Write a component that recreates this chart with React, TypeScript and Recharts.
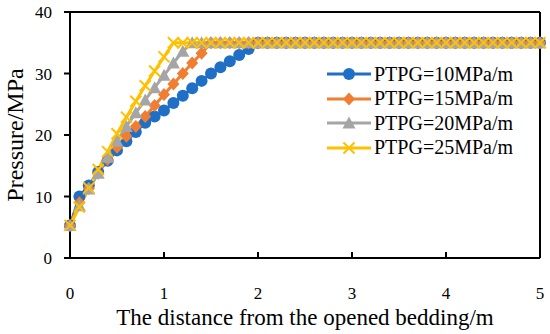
import React from 'react';
import { LineChart, Line, XAxis, YAxis, Legend, ReferenceLine } from 'recharts';

// distance from the opened bedding (m)
const DIST = [
  0, 0.1, 0.2, 0.3, 0.4, 0.5, 0.6, 0.7, 0.8, 0.9,
  1.0, 1.1, 1.2, 1.3, 1.4, 1.5, 1.6, 1.7, 1.8, 1.9,
  2.0, 2.1, 2.2, 2.3, 2.4, 2.5, 2.6, 2.7, 2.8, 2.9,
  3.0, 3.1, 3.2, 3.3, 3.4, 3.5, 3.6, 3.7, 3.8, 3.9,
  4.0, 4.1, 4.2, 4.3, 4.4, 4.5, 4.6, 4.7, 4.8, 4.9,
  5.0,
];

// pressure (MPa) for each pressure transmission gradient
const P10 = [
  5.3, 10.0, 11.8, 14.0, 15.8, 17.5, 19.0, 20.5, 22.0, 23.0,
  24.0, 25.2, 26.4, 27.6, 28.8, 30.0, 31.0, 32.0, 33.0, 34.0,
  35, 35, 35, 35, 35, 35, 35, 35, 35, 35,
  35, 35, 35, 35, 35, 35, 35, 35, 35, 35,
  35, 35, 35, 35, 35, 35, 35, 35, 35, 35,
  35,
];
const P15 = [
  5.3, 9.0, 11.3, 13.8, 16.0, 18.0, 19.8, 21.4, 23.0, 24.8,
  26.6, 28.3, 30.0, 31.7, 33.3, 35, 35, 35, 35, 35,
  35, 35, 35, 35, 35, 35, 35, 35, 35, 35,
  35, 35, 35, 35, 35, 35, 35, 35, 35, 35,
  35, 35, 35, 35, 35, 35, 35, 35, 35, 35,
  35,
];
const P20 = [
  5.3, 8.5, 11.2, 13.8, 16.4, 19.0, 21.4, 23.6, 25.7, 27.7,
  29.7, 31.7, 33.6, 35, 35, 35, 35, 35, 35, 35,
  35, 35, 35, 35, 35, 35, 35, 35, 35, 35,
  35, 35, 35, 35, 35, 35, 35, 35, 35, 35,
  35, 35, 35, 35, 35, 35, 35, 35, 35, 35,
  35,
];
const P25 = [
  5.3, 8.3, 11.4, 14.4, 17.3, 20.2, 22.9, 25.5, 28.0, 30.4,
  32.7, 35, 35, 35, 35, 35, 35, 35, 35, 35,
  35, 35, 35, 35, 35, 35, 35, 35, 35, 35,
  35, 35, 35, 35, 35, 35, 35, 35, 35, 35,
  35, 35, 35, 35, 35, 35, 35, 35, 35, 35,
  35,
];

const X_TICKS = [0, 1, 2, 3, 4, 5];
const Y_TICKS = [0, 10, 20, 30, 40];

const data = DIST.map((x, i) => ({ x, p10: P10[i], p15: P15[i], p20: P20[i], p25: P25[i] }));

const FONT = 'Liberation Serif';

type Shape = 'circle' | 'diamond' | 'triangle' | 'cross';

function Marker({ cx, cy, shape, color }: { cx: number; cy: number; shape: Shape; color: string }) {
  if (cx == null || cy == null) return null;
  if (shape === 'circle') return <circle cx={cx} cy={cy} r={6} fill={color} />;
  if (shape === 'diamond')
    return <path d={`M${cx},${cy - 6.5}L${cx + 6},${cy}L${cx},${cy + 6.5}L${cx - 6},${cy}Z`} fill={color} />;
  if (shape === 'triangle')
    return <path d={`M${cx},${cy - 6.5}L${cx + 6.5},${cy + 5.5}L${cx - 6.5},${cy + 5.5}Z`} fill={color} />;
  return (
    <path
      d={`M${cx - 5.5},${cy - 5.5}L${cx + 5.5},${cy + 5.5}M${cx - 5.5},${cy + 5.5}L${cx + 5.5},${cy - 5.5}`}
      stroke={color}
      strokeWidth={2}
      fill="none"
    />
  );
}

const SERIES: { key: string; name: string; color: string; shape: Shape }[] = [
  { key: 'p10', name: 'PTPG=10MPa/m', color: '#1f6fc6', shape: 'circle' },
  { key: 'p15', name: 'PTPG=15MPa/m', color: '#f07d30', shape: 'diamond' },
  { key: 'p20', name: 'PTPG=20MPa/m', color: '#a5a5a5', shape: 'triangle' },
  { key: 'p25', name: 'PTPG=25MPa/m', color: '#ffc000', shape: 'cross' },
];

function LegendBox() {
  return (
    <div style={{ fontFamily: FONT, fontSize: 20, color: '#000' }}>
      {SERIES.map((s) => (
        <div key={s.key} style={{ display: 'flex', alignItems: 'center', height: 24.5, whiteSpace: 'nowrap' }}>
          <svg width={44} height={20} style={{ marginRight: 3 }}>
            <line x1={0} y1={10} x2={44} y2={10} stroke={s.color} strokeWidth={3} />
            <Marker cx={22} cy={10} shape={s.shape} color={s.color} />
          </svg>
          <span style={{ fontFamily: FONT }}>{s.name}</span>
        </div>
      ))}
    </div>
  );
}

export default function App() {
  const tickStyle = { fill: '#000', fontSize: 17, fontFamily: FONT, style: { fontFamily: FONT } };
  return (
    <div style={{ position: 'absolute', left: 0, top: 0, width: 550, height: 334, background: '#fff', fontFamily: FONT }}>
      <LineChart
        width={550}
        height={334}
        data={data}
        margin={{ top: 12, right: 10, left: 0, bottom: 0 }}
        style={{ fontFamily: FONT }}
      >
        <XAxis
          dataKey="x"
          type="number"
          domain={[0, 5]}
          ticks={X_TICKS}
          height={76}
          tick={tickStyle}
          tickSize={-6}
          tickMargin={35}
          axisLine={{ stroke: '#000', strokeWidth: 2 }}
          tickLine={{ stroke: '#000', strokeWidth: 2 }}
          label={{
            value: 'The distance from the opened bedding/m',
            position: 'insideBottom',
            offset: 9,
            style: { fill: '#000', fontSize: 23, fontFamily: FONT },
          }}
        />
        <YAxis
          type="number"
          domain={[0, 40]}
          ticks={Y_TICKS}
          width={70}
          tick={tickStyle}
          tickSize={6}
          tickMargin={12}
          axisLine={{ stroke: '#000', strokeWidth: 2 }}
          tickLine={{ stroke: '#000', strokeWidth: 2 }}
          label={{
            value: 'Pressure/MPa',
            angle: -90,
            position: 'insideLeft',
            offset: 14,
            style: { fill: '#000', fontSize: 24, fontFamily: FONT, textAnchor: 'middle' },
          }}
        />
        <ReferenceLine y={40} stroke="#000" strokeWidth={2} />
        <ReferenceLine x={5} stroke="#000" strokeWidth={2} />
        {SERIES.map((s) => (
          <Line
            key={s.key}
            dataKey={s.key}
            name={s.name}
            type="linear"
            stroke={s.color}
            strokeWidth={3}
            isAnimationActive={false}
            dot={(p: any) => <Marker key={`${s.key}-${p.index}`} cx={p.cx} cy={p.cy} shape={s.shape} color={s.color} />}
            activeDot={false}
          />
        ))}
        <Legend
          layout="vertical"
          align="center"
          verticalAlign="middle"
          content={() => <LegendBox />}
          wrapperStyle={{ left: 327, top: 62, width: 200 }}
        />
      </LineChart>
    </div>
  );
}
